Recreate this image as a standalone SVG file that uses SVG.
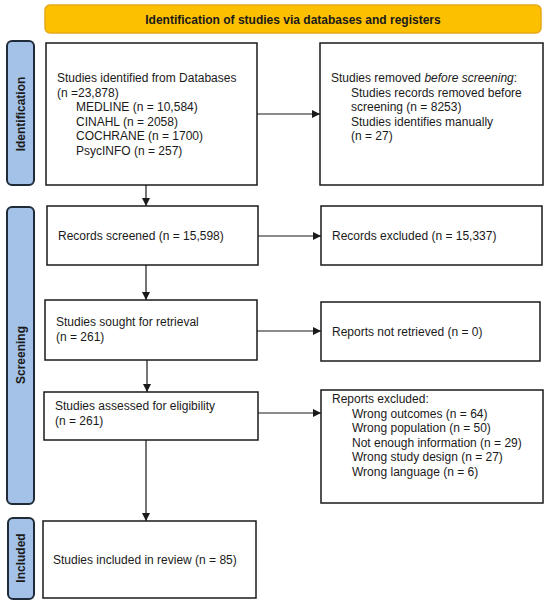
<svg xmlns="http://www.w3.org/2000/svg" width="550" height="604" viewBox="0 0 550 604">
<style>
text{font-family:"Liberation Sans",Arial,sans-serif;font-size:12px;fill:#1a1a1a}
.box{fill:#fff;stroke:#1a1a1a;stroke-width:1.5}
.side{fill:#a4c2e8;stroke:#1f2b38;stroke-width:2}
.sidet{font-weight:bold;font-size:12px;text-anchor:middle}
.conn{stroke:#1a1a1a;stroke-width:1.2;fill:none;marker-end:url(#ah)}
</style>
<defs>
<marker id="ah" viewBox="0 0 10 10" refX="10" refY="5" markerWidth="8" markerHeight="8" markerUnits="userSpaceOnUse" orient="auto">
<path d="M0,0 L10,5 L0,10 z" fill="#1a1a1a"/>
</marker>
</defs>
<g id="banner">
<rect x="45" y="5" width="496" height="28" rx="5" fill="#fcc000" stroke="#e6a817" stroke-width="1.5"/>
<text x="293" y="23.5" style="font-weight:bold" text-anchor="middle">Identification of studies via databases and registers</text>
</g>
<g id="lbl-identification">
<rect class="side" x="7" y="41" width="27" height="144" rx="5"/>
<text class="sidet" transform="translate(24.5,114) rotate(-90)">Identification</text>
</g>
<g id="lbl-screening">
<rect class="side" x="7" y="207" width="27" height="297" rx="5"/>
<text class="sidet" transform="translate(24.5,355) rotate(-90)">Screening</text>
</g>
<g id="lbl-included">
<rect class="side" x="8" y="518" width="26" height="81" rx="5"/>
<text class="sidet" transform="translate(25,558) rotate(-90)">Included</text>
</g>
<g id="n-identified">
<rect class="box" x="46" y="43" width="211" height="142"/>
<text x="57" y="82">Studies identified from Databases</text>
<text x="57" y="97">(n =23,878)</text>
<text x="76" y="111">MEDLINE (n = 10,584)</text>
<text x="76" y="126">CINAHL (n = 2058)</text>
<text x="76" y="140">COCHRANE (n = 1700)</text>
<text x="76" y="155">PsycINFO (n = 257)</text>
</g>
<g id="n-removed">
<rect class="box" x="320" y="43" width="223" height="142"/>
<text x="331" y="82">Studies removed <tspan font-style="italic">before screening</tspan>:</text>
<text x="351" y="97">Studies records removed before</text>
<text x="351" y="111">screening (n = 8253)</text>
<text x="351" y="126">Studies identifies manually</text>
<text x="351" y="140">(n = 27)</text>
</g>
<g id="n-screened">
<rect class="box" x="47" y="206" width="211" height="59"/>
<text x="58" y="240">Records screened (n = 15,598)</text>
</g>
<g id="n-excluded">
<rect class="box" x="321" y="206" width="221" height="59"/>
<text x="332" y="240">Records excluded (n = 15,337)</text>
</g>
<g id="n-sought">
<rect class="box" x="45" y="300" width="212" height="60"/>
<text x="56" y="326">Studies sought for retrieval</text>
<text x="56" y="341">(n = 261)</text>
</g>
<g id="n-notretrieved">
<rect class="box" x="321" y="302" width="219" height="59"/>
<text x="332" y="336">Reports not retrieved (n = 0)</text>
</g>
<g id="n-assessed">
<rect class="box" x="44" y="392" width="214" height="48"/>
<text x="55" y="410">Studies assessed for eligibility</text>
<text x="55" y="425">(n = 261)</text>
</g>
<g id="n-reportsexcluded">
<rect class="box" x="321" y="390" width="222" height="113"/>
<text x="332" y="403">Reports excluded:</text>
<text x="352" y="417.5">Wrong outcomes (n = 64)</text>
<text x="352" y="432">Wrong population (n = 50)</text>
<text x="352" y="446.5">Not enough information (n = 29)</text>
<text x="352" y="461">Wrong study design (n = 27)</text>
<text x="352" y="475.5">Wrong language (n = 6)</text>
</g>
<g id="n-included">
<rect class="box" x="43" y="521" width="213" height="77"/>
<text x="53" y="564">Studies included in review (n = 85)</text>
</g>
<g id="connectors">
<line class="conn" x1="257" y1="114" x2="320" y2="114"/>
<line class="conn" x1="146" y1="185" x2="146" y2="206"/>
<line class="conn" x1="258" y1="236" x2="321" y2="236"/>
<line class="conn" x1="146" y1="265" x2="146" y2="300"/>
<line class="conn" x1="257" y1="331" x2="321" y2="331"/>
<line class="conn" x1="147" y1="360" x2="147" y2="392"/>
<line class="conn" x1="258" y1="413" x2="321" y2="413"/>
<line class="conn" x1="146" y1="440" x2="146" y2="521"/>
</g>
</svg>
